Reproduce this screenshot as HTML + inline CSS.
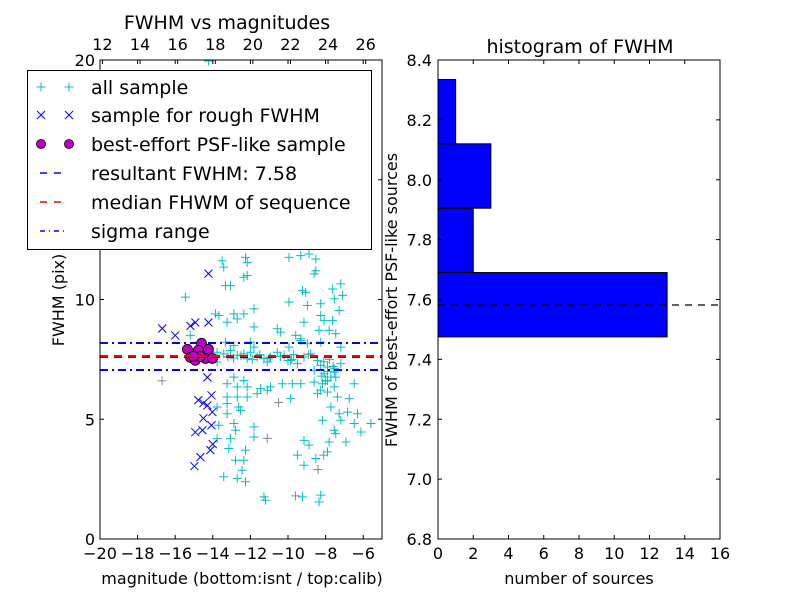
<!DOCTYPE html>
<html><head><meta charset="utf-8"><style>
body{margin:0;background:#fff}
svg text{font-family:"DejaVu Sans","Liberation Sans",sans-serif;fill:#000}
</style></head><body>
<svg id="c" width="800" height="600" xmlns="http://www.w3.org/2000/svg"></svg>
<script>
// ---- data ----
const allX=[-13.5,-13.42,-12.26,-12.17,-9.95,-9.32,-8.88,-8.52,-8.61,-8.52,-12.17,-12.35,-13.33,-13.06,-9.23,-9.06,-7.63,-7.19,-9.95,-7.1,-7.54,-15.46,-8.26,-8.97,-13.86,-13.68,-12.88,-12.35,-12.7,-11.81,-8.26,-7.28,-9.15,-8.08,-7.63,-13.24,-11.81,-10.57,-10.39,-9.59,-9.32,-8.35,-7.81,-7.46,-15.2,-13.33,-12.88,-12.0,-11.81,-9.95,-9.32,-8.97,-8.26,-7.19,
-13.77,-13.42,-13.06,-12.7,-12.35,-12.0,-11.64,-11.28,-10.93,-10.57,-10.21,-9.86,-9.5,-9.15,-8.79,-8.43,-8.26,-7.9,-7.54,-7.19,-8.61,-8.08,-7.72,-8.26,-7.9,-7.54,-7.46,-13.77,-12.17,-11.1,
-13.2,-12.9,-12.5,-11.9,-11.5,-11.0,-10.4,-10.0,-9.7,-8.1,-7.8,-7.9,-8.0,-7.6,-8.2,
-12.88,-12.35,-13.24,-12.7,-12.17,-11.46,-10.93,-10.3,-9.77,-9.32,-8.61,-8.17,-7.54,-6.48,-13.24,-12.7,-12.17,-11.64,-11.1,-9.86,-8.43,-7.9,-7.37,-6.74,-13.77,-13.24,-12.62,-12.53,-13.24,-7.72,-7.28,-6.83,-6.3,-8.17,-7.19,-6.48,-6.12,-5.59,-13.68,-12.88,-12.79,-11.81,-13.77,-13.06,-11.81,-9.15,-8.88,-7.54,-7.46,-7.81,-6.92,-13.15,-12.26,-9.5,-9.15,-8.52,-7.9,-12.79,-12.35,-12.44,-13.42,-12.7,-12.26,-11.28,-11.2,-9.23,-8.26,-8.35,-14.23];
const allY=[11.62,11.35,11.76,11.55,11.76,11.83,11.9,11.69,11.07,11.2,11.0,10.93,10.58,10.58,10.37,10.3,10.44,10.65,9.89,10.17,10.03,10.1,9.82,9.75,9.4,9.33,9.4,9.4,9.19,9.61,9.33,9.54,9.05,9.12,9.12,9.05,8.85,8.78,8.64,8.5,8.36,8.71,8.71,8.57,8.5,8.22,8.08,8.22,8.01,8.01,8.29,8.15,8.22,8.01,
7.8,7.73,7.87,7.67,7.73,7.8,7.6,7.53,7.6,7.8,7.67,7.46,7.32,7.6,7.73,7.46,7.25,7.18,7.11,7.32,7.04,6.9,6.76,6.21,6.62,6.97,6.76,7.39,7.53,7.39,
7.6,7.55,7.65,7.5,7.7,7.55,7.62,7.45,7.7,7.4,7.5,7.0,6.6,7.2,6.8,
6.76,6.62,6.48,6.35,6.35,6.28,6.35,6.48,6.48,6.48,6.55,6.48,6.35,6.48,5.93,5.93,5.93,6.07,6.21,5.86,6.07,6.14,5.93,5.86,5.51,5.65,5.51,5.37,5.23,5.51,5.23,5.3,5.23,4.96,4.96,4.82,4.47,4.82,4.75,4.82,4.54,4.68,4.19,4.19,4.26,4.12,3.92,4.54,4.4,4.05,4.05,3.78,3.71,3.5,3.08,3.36,3.64,3.29,3.29,2.87,2.6,2.53,2.39,1.76,1.62,1.76,1.83,1.55,19.96];
const grayX=[-16.7,-8.1,-8.4,-9.6,-11.1,-10.5,-8.9,-9.8];
const grayY=[6.6,3.5,2.9,1.8,4.2,5.7,7.7,7.5];
const roughX=[-16.69,-16.0,-15.19,-14.93,-14.23,-14.23,-14.29,-14.77,-14.5,-14.29,-14.07,-14.02,-14.93,-14.55,-14.07,-14.98,-14.66,-14.13,-14.0,-14.5];
const roughY=[8.79,8.5,8.9,9.04,9.04,11.08,6.75,5.8,5.67,5.58,6.0,5.3,4.46,4.54,4.75,3.04,3.42,3.71,3.96,5.04];
const bestX=[-15.35,-14.6,-14.77,-14.23,-15.19,-14.93,-14.39,-14.02,-14.66,-15.03];
const bestY=[7.92,8.17,7.88,7.92,7.58,7.46,7.54,7.54,7.62,7.63];
const resultFWHM=7.58, medianFWHM=7.65, sigmaLo=7.06, sigmaHi=8.18;
const binEdges=[7.475,7.69,7.905,8.12,8.335];
const binCounts=[13,2,3,1];
const xTicks=[-20,-18,-16,-14,-12,-10,-8,-6];
const yTicks=[0,5,10,15,20];
const topTicks=[12,14,16,18,20,22,24,26];
const hxTicks=[0,2,4,6,8,10,12,14,16];
const hyTicks=[6.8,7.0,7.2,7.4,7.6,7.8,8.0,8.2,8.4];
const legendLabels=["all sample","sample for rough FWHM","best-effort PSF-like sample","resultant FWHM: 7.58","median FHWM of sequence","sigma range"];

// ---- axes ----
const L={x0:100,x1:382,y0:539,y1:60};
const sx=v=>L.x0+(v+20)/15*(L.x1-L.x0);
const sy=v=>L.y0-v/20*(L.y0-L.y1);
const stx=v=>L.x0+(v-11.87)/(26.87-11.87)*(L.x1-L.x0);
const R={x0:438,x1:720,y0:539,y1:60};
const hx=v=>R.x0+v/16*(R.x1-R.x0);
const hy=v=>R.y0-(v-6.8)/1.6*(R.y0-R.y1);
const svg=document.getElementById('c');
const NS="http://www.w3.org/2000/svg";
function mk(t,a,p){const e=document.createElementNS(NS,t);for(const k in a)e.setAttribute(k,a[k]);(p||svg).appendChild(e);return e;}
function txt(s,x,y,sz,anchor,p){const e=mk('text',{x:x,y:y,'font-size':sz,'text-anchor':anchor||'middle'},p);e.textContent=s;return e;}

// left plot
const gL=mk('g',{});


const clip=mk('clipPath',{id:'cl'});mk('rect',{x:L.x0,y:L.y1,width:L.x1-L.x0,height:L.y0-L.y1},clip);
const pts=mk('g',{'clip-path':'url(#cl)'},gL);
function plus(x,y,col,p){return mk('path',{d:`M${x-4.5},${y}h9M${x},${y-4.5}v9`,stroke:col,'stroke-width':1,fill:'none'},p);}
function cross(x,y,col,p){return mk('path',{d:`M${x-4},${y-4}l8,8M${x-4},${y+4}l8,-8`,stroke:col,'stroke-width':1,fill:'none'},p);}
const gg=mk('g',{},pts);


grayX.forEach((v,i)=>plus(sx(v),sy(grayY[i]),'#888',gg));
const ga=mk('g',{},pts);


allX.forEach((v,i)=>plus(sx(v),sy(allY[i]),'#00BFBF',ga));
const gr=mk('g',{},pts);


roughX.forEach((v,i)=>cross(sx(v),sy(roughY[i]),'#0000ff',gr));
function hline(v,col,dash,name){const y=Math.round(sy(v));const e=mk('line',{x1:L.x0,x2:L.x1,y1:y,y2:y,stroke:col,'stroke-width':2,'stroke-dasharray':dash},pts);

}
hline(sigmaHi,'#0000ff','8,4,2,4','sigma-high-line');
hline(sigmaLo,'#0000ff','8,4,2,4','sigma-low-line');
const gb=mk('g',{},pts);


bestX.forEach((v,i)=>mk('circle',{cx:sx(v),cy:sy(bestY[i]),r:5,fill:'#bf00bf',stroke:'#000','stroke-width':0.8},gb));
hline(resultFWHM,'#0000ff','8,6','resultant-fwhm-line');
hline(medianFWHM,'#ff0000','8,6','median-fwhm-line');
mk('rect',{x:L.x0,y:L.y1,width:L.x1-L.x0,height:L.y0-L.y1,fill:'none',stroke:'#000','stroke-width':1},gL);
xTicks.forEach(v=>{const x=sx(v);mk('path',{d:`M${x},${L.y0}v-4M${x},${L.y1}v4`,stroke:'#000'},gL);txt((v<0?'\u2212':'')+Math.abs(v),x,559,16,'middle',gL);});
topTicks.forEach(v=>{const x=stx(v);mk('path',{d:`M${x},${L.y1}v4`,stroke:'#000'},gL);txt(String(v),x,50,16,'middle',gL);});
yTicks.forEach(v=>{const y=sy(v);mk('path',{d:`M${L.x0},${y}h4M${L.x1},${y}h-4`,stroke:'#000'},gL);txt(String(v),L.x0-5,y+6,16,'end',gL);});
txt('FWHM vs magnitudes',227,29,19,'middle',gL);
txt('magnitude (bottom:isnt / top:calib)',242,584,16,'middle',gL);
const yl=txt('FWHM (pix)',0,0,16,'middle',gL);yl.setAttribute('transform','translate(64,300) rotate(-90)');


// legend
const lg=mk('g',{});


mk('rect',{x:27.5,y:70.5,width:344,height:179,fill:'#fff',stroke:'#000','stroke-width':1},lg);
const ly=[87,115,144,173,202,231];
legendLabels.forEach((s,i)=>{const y=ly[i];
 const e=txt(s,91,y+7,19,'start',lg);
 
 if(i==0){plus(41,y,'#00BFBF',lg);plus(69,y,'#00BFBF',lg);}
 if(i==1){cross(41,y,'#0000ff',lg);cross(69,y,'#0000ff',lg);}
 if(i==2){mk('circle',{cx:41,cy:y,r:4.5,fill:'#bf00bf',stroke:'#000','stroke-width':0.8},lg);mk('circle',{cx:69,cy:y,r:4.5,fill:'#bf00bf',stroke:'#000','stroke-width':0.8},lg);}
 if(i==3)mk('line',{x1:40,x2:68,y1:y,y2:y,stroke:'#0000ff','stroke-width':1.5,'stroke-dasharray':'7,7'},lg);
 if(i==4)mk('line',{x1:40,x2:68,y1:y,y2:y,stroke:'#ff0000','stroke-width':1.5,'stroke-dasharray':'7,7'},lg);
 if(i==5)mk('line',{x1:40,x2:68,y1:y,y2:y,stroke:'#0000ff','stroke-width':1.5,'stroke-dasharray':'5,4,1,4'},lg);
});

// histogram
const gH=mk('g',{});


binCounts.forEach((c,i)=>{const b=mk('rect',{x:hx(0),y:hy(binEdges[i+1]),width:hx(c)-hx(0),height:hy(binEdges[i])-hy(binEdges[i+1]),fill:'#0000ff',stroke:'#000','stroke-width':1},gH);

});
const hl=mk('line',{x1:R.x0,x2:R.x1,y1:Math.round(hy(resultFWHM)),y2:Math.round(hy(resultFWHM)),stroke:'#000','stroke-width':1.3,'stroke-dasharray':'7,6'},gH);

mk('rect',{x:R.x0,y:R.y1,width:R.x1-R.x0,height:R.y0-R.y1,fill:'none',stroke:'#000'},gH);
hxTicks.forEach(v=>{const x=hx(v);mk('path',{d:`M${x},${R.y0}v-4M${x},${R.y1}v4`,stroke:'#000'},gH);txt(String(v),x,559,16,'middle',gH);});
hyTicks.forEach(v=>{const y=hy(v);mk('path',{d:`M${R.x0},${y}h4M${R.x1},${y}h-4`,stroke:'#000'},gH);txt(v.toFixed(1),R.x0-6,y+6,16,'end',gH);});
txt('histogram of FWHM',580,53,19,'middle',gH);
txt('number of sources',579,584,16,'middle',gH);
const hy2=txt('FWHM of best-effort PSF-like sources',0,0,16,'middle',gH);hy2.setAttribute('transform','translate(397,300) rotate(-90)');

</script>
</body></html>
